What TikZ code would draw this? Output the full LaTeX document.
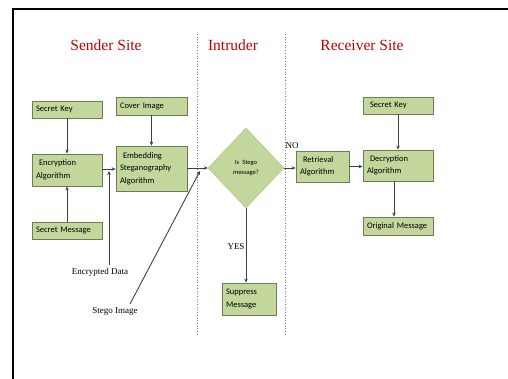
\documentclass[tikz,border=0pt]{standalone}
\usepackage{fontspec}
\setmainfont{Liberation Serif}
\newfontfamily\boxfont{Carlito}
\usetikzlibrary{arrows.meta,shapes.geometric}
\definecolor{boxgreen}{HTML}{C3D69B}
\definecolor{boxedge}{HTML}{6E7C55}
\definecolor{titlered}{RGB}{192,0,0}
\definecolor{linegray}{HTML}{404040}
\tikzset{
  stepbox/.style={draw=boxedge, line width=0.8pt, fill=boxgreen, inner xsep=4pt, inner ysep=0pt,
    align=left, font=\boxfont\fontsize{8.5}{12.5}\selectfont},
  titletext/.style={text=titlered, font=\fontsize{15.5}{18}\selectfont},
  labeltext/.style={font=\fontsize{9}{11}\selectfont, inner sep=1pt},
  flow/.style={draw=linegray, line width=0.9pt, -{Stealth[length=4pt,width=3.5pt]}},
  divider/.style={draw=gray, dotted, line width=0.7pt},
}
\begin{document}
\begin{tikzpicture}[x=1pt,y=-1pt]
\useasboundingbox (0,0) rectangle (508,379);
% frame
\draw[line width=2pt] (13,379) -- (13,9) -- (508,9);
% dividers
\draw[divider] (197,34) -- (197,335);
\draw[divider] (285,34) -- (285,335);
% titles
\node[titletext] (tsend) at (106,45) {Sender Site};
\node[titletext] (tintr) at (233,45) {Intruder};
\node[titletext] (trecv) at (362,45) {Receiver Site};
% sender boxes
\node[stepbox, text width=62pt, minimum height=17pt] (skL) at (67,109.5) {Secret Key};
\node[stepbox, text width=63pt, minimum height=18pt] (cover) at (151.5,106) {Cover Image};
\node[stepbox, text width=62pt, minimum height=32pt] (enc) at (67,170) {\hspace{3pt}Encryption\\Algorithm};
\node[stepbox, text width=63pt, minimum height=45pt] (emb) at (151.5,168.5) {\hspace{3pt}Embedding\\Steganography\\Algorithm};
\node[stepbox, text width=62pt, minimum height=17pt] (sm) at (67,230.5) {Secret Message};
% intruder
\node[diamond, draw=boxgreen!70!gray, fill=boxgreen, minimum width=76pt, minimum height=80pt, inner sep=0pt,
      align=center, font=\boxfont\fontsize{6.5}{10}\selectfont] (dia) at (246,168) {Is \;Stego\\message?};
\node[stepbox, text width=46pt, minimum height=32pt] (supp) at (249,299) {Suppress\\Message};
% receiver
\node[stepbox, text width=45pt, minimum height=31pt] (retr) at (322.5,166.5) {\hspace{3pt}Retrieval\\Algorithm};
\node[stepbox, text width=62pt, minimum height=17pt] (skR) at (398,105.5) {\hspace{3pt}Secret Key};
\node[stepbox, text width=62pt, minimum height=31pt] (dec) at (398,165.5) {\hspace{3pt}Decryption\\Algorithm};
\node[stepbox, text width=62pt, minimum height=18pt] (orig) at (398,226) {Original Message};
% labels
\node[labeltext] (encdata) at (100,272) {Encrypted Data};
\node[labeltext] (stegoimg) at (115,311) {Stego Image};
\node[labeltext] (yes) at (236,247) {YES};
\node[labeltext] (no) at (292,146) {NO};
\coordinate (encend) at (109,265);
\coordinate (encjoin) at (109,171);
\coordinate (stegoend) at (130,304);
\coordinate (stegojoin) at (200,171);
% connectors
\draw[flow] (skL) -- (enc);
\draw[flow] (sm) -- (enc);
\draw[flow] (cover) -- (emb);
\draw[flow] (enc.east |- 0,169) -- (emb.west |- 0,169);
\draw[flow] (encend) -- (encjoin);
\draw[flow] (stegoend) -- (stegojoin);
\draw[flow] (emb.east |- dia.west) -- (dia.west);
\draw[flow] (dia.south) -- (supp.north -| dia.south);
\draw[flow] (dia.east) -- (retr.west |- dia.east);
\draw[flow] (retr.east) -- (dec.west |- retr.east);
\draw[flow] (skR) -- (dec);
\draw[flow] (dec.south -| 394,0) -- (orig.north -| 394,0);
\end{tikzpicture}
\end{document}
